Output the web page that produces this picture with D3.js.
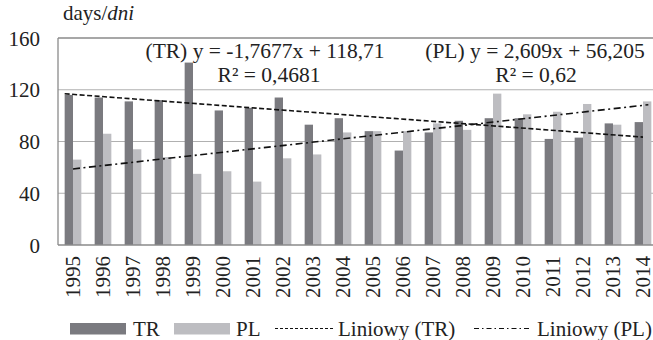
<meta charset="utf-8">
<title>TR / PL days</title>
<script src="https://d3js.org/d3.v7.min.js"></script>
<style>
  body { margin: 0; background: #fff; }
</style>
<body>
<svg width="653" height="340"></svg>
<script>

  // data
  const years = ['1995','1996','1997','1998','1999','2000','2001','2002','2003','2004',
                 '2005','2006','2007','2008','2009','2010','2011','2012','2013','2014']
  const trValues = [116,114,111,112,141,104,106,114,93,98,88,73,87,96,98,98,82,83,94,95]
  const plValues = [66,86,74,68,55,57,49,67,70,87,88,88,94,89,117,101,103,109,93,111]
  const yTicks = [0,40,80,120,160]
  // linear trend endpoints (first and last year)
  const trendTR = [116.9, 83.4]
  const trendPL = [58.8, 108.4]

  const trColor = '#7a7a7f',
        plColor = '#bdbdc1'

  const svg = d3.select('svg')

  const x = d3.scaleBand()
    .domain(years)
    .range([58, 658])
    .paddingInner(0.444)
    .paddingOuter(0.222)

  const x2 = d3.scaleBand()
    .domain(['TR','PL'])
    .range([0, x.bandwidth()])

  const y = d3.scaleLinear()
    .domain([0, 160])
    .range([245, 38])

  const label = (sel, size = '21px') => sel
    .style('font-family', "'Liberation Serif'")
    .style('font-size', size)
    .attr('fill', '#222')

  // gridlines
  svg.append('g')
    .selectAll('line')
    .data(yTicks.slice(1, -1))
    .join('line')
      .attr('x1', 58).attr('x2', 653)
      .attr('y1', d => y(d)).attr('y2', d => y(d))
      .attr('stroke', '#b0b0b0')
      .attr('stroke-width', 1.2)

  // y labels
  svg.append('g')
    .selectAll('text')
    .data(yTicks)
    .join('text')
      .attr('x', 40)
      .attr('y', d => y(d) + 7.5)
      .attr('text-anchor', 'end')
      .call(label)
      .text(d => d)

  // unit label
  const unit = svg.append('text')
    .attr('x', 63).attr('y', 20)
    .call(label)
  unit.append('tspan').text('days/')
  unit.append('tspan').style('font-style', 'italic').text('dni')

  // bars
  const groups = svg.append('g')
    .selectAll('g')
    .data(years.map((yr, i) => ({ yr, TR: trValues[i], PL: plValues[i] })))
    .join('g')
      .attr('transform', d => `translate(${x(d.yr)},0)`)

  groups.selectAll('rect')
    .data(d => [['TR', d.TR], ['PL', d.PL]])
    .join('rect')
      .attr('x', d => x2(d[0]))
      .attr('width', x2.bandwidth())
      .attr('y', d => y(d[1]))
      .attr('height', d => y(0) - y(d[1]))
      .attr('fill', d => d[0] === 'TR' ? trColor : plColor)

  // plot frame
  svg.append('line')
    .attr('x1', 58).attr('x2', 653).attr('y1', y(160)).attr('y2', y(160))
    .attr('stroke', '#8a8a8a').attr('stroke-width', 1.3)
  svg.append('line')
    .attr('x1', 58).attr('x2', 58).attr('y1', y(160)).attr('y2', y(0))
    .attr('stroke', '#8a8a8a').attr('stroke-width', 1.3)
  svg.append('line')
    .attr('x1', 58).attr('x2', 653).attr('y1', y(0)).attr('y2', y(0))
    .attr('stroke', '#8a8a8a').attr('stroke-width', 1.5)

  // trend lines
  const first = years[0], last = years[years.length - 1]
  svg.append('line')
    .attr('x1', x(first) + x2('TR')).attr('y1', y(trendTR[0]))
    .attr('x2', x(last) + x.bandwidth() / 2).attr('y2', y(trendTR[1]))
    .attr('stroke', '#111').attr('stroke-width', 1.6)
    .attr('stroke-dasharray', '5,2.5')
  svg.append('line')
    .attr('x1', x(first) + x2('PL')).attr('y1', y(trendPL[0]))
    .attr('x2', x(last) + x.bandwidth() - 3).attr('y2', y(trendPL[1]))
    .attr('stroke', '#111').attr('stroke-width', 1.6)
    .attr('stroke-dasharray', '7,3.5,2,3.5')

  // equations
  const eq = svg.append('g').attr('text-anchor', 'middle')
  eq.append('text').attr('x', 265).attr('y', 57.5).call(label, '21.5px').text('(TR) y = -1,7677x + 118,71')
  eq.append('text').attr('x', 269).attr('y', 81.5).call(label, '21.5px').text('R² = 0,4681')
  eq.append('text').attr('x', 535).attr('y', 57.5).call(label, '21.5px').text('(PL) y = 2,609x + 56,205')
  eq.append('text').attr('x', 536).attr('y', 81.5).call(label, '21.5px').text('R² = 0,62')

  // x labels
  svg.append('g')
    .selectAll('text')
    .data(years)
    .join('text')
      .attr('transform', d => `translate(${x(d) + x.bandwidth() / 2 + 7},256) rotate(-90)`)
      .attr('text-anchor', 'end')
      .call(label)
      .text(d => d)

  // legend
  const leg = svg.append('g')
  leg.append('rect').attr('x', 70).attr('y', 323).attr('width', 56).attr('height', 11.5).attr('fill', trColor)
  leg.append('text').attr('x', 133).attr('y', 335.5).call(label).text('TR')
  leg.append('rect').attr('x', 174).attr('y', 323).attr('width', 56).attr('height', 11.5).attr('fill', plColor)
  leg.append('text').attr('x', 236).attr('y', 335.5).call(label).text('PL')
  leg.append('line').attr('x1', 275).attr('x2', 333).attr('y1', 328.5).attr('y2', 328.5)
    .attr('stroke', '#111').attr('stroke-width', 1.2).attr('stroke-dasharray', '3,2')
  leg.append('text').attr('x', 338).attr('y', 335.5).call(label).text('Liniowy (TR)')
  leg.append('line').attr('x1', 474).attr('x2', 530).attr('y1', 328.5).attr('y2', 328.5)
    .attr('stroke', '#111').attr('stroke-width', 1.2).attr('stroke-dasharray', '5,3,1.5,3')
  leg.append('text').attr('x', 537).attr('y', 335.5).call(label).text('Liniowy (PL)')

</script>
</body>
